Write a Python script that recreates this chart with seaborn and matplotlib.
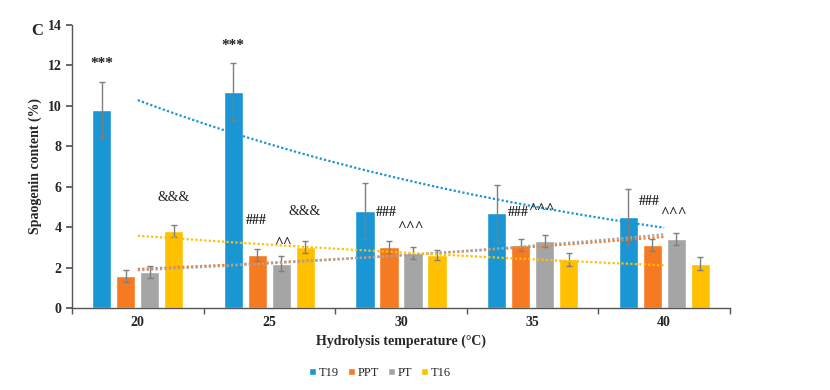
import numpy as np
import pandas as pd
import matplotlib
matplotlib.use("Agg")
import matplotlib.pyplot as plt
import seaborn as sns

sns.set_theme(style="white")
plt.rcParams['font.family'] = ['Liberation Serif', 'DejaVu Serif']

# data
temps = ["20", "25", "30", "35", "40"]
samples = ["T19", "PPT", "PT", "T16"]
t19 = [9.8, 10.7, 4.8, 4.7, 4.5]
ppt = [1.6, 2.6, 3.0, 3.1, 3.1]
pt = [1.8, 2.2, 2.7, 3.3, 3.4]
t16 = [3.8, 3.0, 2.6, 2.4, 2.2]
t19_err = [1.4, 1.4, 1.4, 1.4, 1.4]
ppt_err = [0.3, 0.3, 0.3, 0.3, 0.3]
pt_err = [0.3, 0.35, 0.3, 0.3, 0.3]
t16_err = [0.3, 0.3, 0.25, 0.3, 0.3]
colors = ["#1996D3", "#F57A22", "#A5A5A5", "#FFC000"]

# significance marks: (label, x position in category units, y)
marks = [("***", -0.27, 12.1), ("***", 0.72, 13.0),
         ("&&&", 0.27, 5.45), ("###", 0.90, 4.35), ("^^", 1.10, 3.2),
         ("&&&", 1.27, 4.75), ("###", 1.89, 4.7), ("^^^", 2.07, 4.0),
         ("###", 2.89, 4.7), ("^^^", 3.07, 4.85), ("###", 3.89, 5.25),
         ("^^^", 4.07, 4.65)]

values = [t19, ppt, pt, t16]
errors = [t19_err, ppt_err, pt_err, t16_err]
df = pd.DataFrame({
    "temp": temps * 4,
    "sample": [s for s in samples for _ in temps],
    "value": sum(values, []),
    "err": sum(errors, []),
})

fig = plt.figure(figsize=(8.3, 3.9), dpi=100)
ax = fig.add_axes([0.0867, 0.2103, 0.7928, 0.7257])

sns.barplot(data=df, x="temp", y="value", hue="sample", palette=colors,
            errorbar=None, width=0.73, gap=0.2, ax=ax, saturation=1)

# error bars on each bar
for cont, errs in zip(ax.containers, errors):
    xs = [p.get_x() + p.get_width() / 2 for p in cont]
    hs = [p.get_height() for p in cont]
    ax.errorbar(xs, hs, yerr=errs, fmt="none", ecolor="#7f7f7f",
                elinewidth=1, capsize=2.5, capthick=1)

# exponential trendlines (Excel style)
xi = np.arange(len(temps))
xx = np.linspace(0, len(temps) - 1, 100)
for vals, c in zip(values, colors):
    b, a = np.polyfit(xi, np.log(vals), 1)
    ax.plot(xx, np.exp(a + b * xx), ls=(0, (1, 1)), color=c, lw=1.6)

for txt, x, y in marks:
    ax.text(x, y, txt, ha="center", va="center",
            fontsize=11 if txt[0] in "*^" else 10,
            fontweight="normal" if txt == "&&&" else "bold",
            color="#222222")

ax.set_ylim(0, 14)
ax.set_xlim(-0.5, 4.5)
ax.set_yticks(range(0, 15, 2))
ax.set_xticks(np.arange(-0.5, 4.6, 1), minor=True)
ax.tick_params(axis="x", which="major", length=0, labelsize=10, pad=6)
ax.tick_params(axis="x", which="minor", length=4, direction="out",
               color="#555555", bottom=True)
ax.tick_params(axis="y", length=4, direction="out", color="#555555",
               left=True, labelsize=10)
for lab in ax.get_xticklabels() + ax.get_yticklabels():
    lab.set_fontweight("bold")
for s in ["top", "right"]:
    ax.spines[s].set_visible(False)
for s in ["left", "bottom"]:
    ax.spines[s].set_color("#555555")
    ax.spines[s].set_linewidth(1)

ax.set_xlabel("Hydrolysis temperature (\u00b0C)", fontweight="bold",
              fontsize=10, labelpad=4)
ax.set_ylabel("Spaogenin content (%)", fontweight="bold", fontsize=10,
              labelpad=4)
fig.text(0.045, 0.92, "C", fontweight="bold", fontsize=12, ha="center",
         va="center")

handles, labels = ax.get_legend_handles_labels()
ax.get_legend().remove()
fig.legend(handles, labels, loc="center", bbox_to_anchor=(0.458, 0.044),
           ncol=4, frameon=False, fontsize=9, handlelength=0.55,
           handleheight=0.55, handletextpad=0.25, columnspacing=0.7)

fig.savefig("out.png", dpi=100, facecolor="white")
